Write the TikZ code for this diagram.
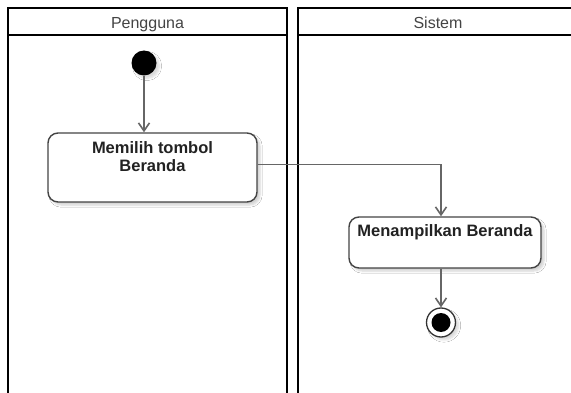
\documentclass[tikz,border=0pt]{standalone}
\usepackage{fontspec}
\setmainfont{Liberation Sans}
\usetikzlibrary{arrows.meta,shadows.blur}
\definecolor{lanetext}{HTML}{444444}
\definecolor{acttext}{HTML}{222222}
\definecolor{edge}{HTML}{666666}
\definecolor{actborder}{HTML}{444444}
\tikzset{
  lane/.style={draw=black, line width=2.6pt},
  lanetitle/.style={font=\fontsize{16}{18}\selectfont, text=lanetext, inner sep=0pt, anchor=base},
  actbox/.style={draw=actborder, line width=1.4pt, fill=white, rounded corners=10pt,
    blur shadow={shadow xshift=3pt, shadow yshift=-3pt, shadow opacity=18, shadow blur steps=6}},
  acttitle/.style={font=\bfseries\fontsize{16.5}{18}\selectfont, text=acttext, inner sep=0pt, align=center},
  flow/.style={draw=edge, line width=1.6pt, -{Straight Barb[length=8pt,width=11pt]}},
  startnode/.style={circle, fill=black, minimum size=25pt, inner sep=0pt,
    blur shadow={shadow xshift=3pt, shadow yshift=-3pt, shadow opacity=15, shadow blur steps=6}},
  endring/.style={circle, draw=black!80, line width=1.3pt, fill=white, minimum size=29pt, inner sep=0pt,
    blur shadow={shadow xshift=3pt, shadow yshift=-3pt, shadow opacity=15, shadow blur steps=6}},
  enddot/.style={circle, fill=black, minimum size=19pt, inner sep=0pt}
}
\begin{document}
\begin{tikzpicture}[x=1pt,y=-1pt]
  \useasboundingbox (0,0) rectangle (571,393);
  \clip (0,0) rectangle (571,393);
  \fill[white] (0,0) rectangle (571,393);

  % swimlanes
  \draw[lane] (8,400) -- (8,8) -- (287,8) -- (287,400);
  \draw[lane] (8,35) -- (287,35);
  \draw[lane] (298,400) -- (298,8) -- (580,8);
  \draw[lane] (298,35) -- (580,35);
  \node[lanetitle] (laneA) at (147.5,29) {Pengguna};
  \node[lanetitle] (laneB) at (438,29) {Sistem};

  % activities
  \node[startnode] (start) at (144,63) {};
  \node[actbox, minimum width=209pt, minimum height=69pt, inner sep=0pt] (act1) at (152.5,167.5) {};
  \node[acttitle, anchor=north] (act1txt) at (152.5,141) {Memilih tombol\\Beranda};
  \node[actbox, minimum width=192pt, minimum height=51pt, inner sep=0pt] (act2) at (445,242.5) {};
  \node[acttitle, anchor=north] (act2txt) at (445,224) {Menampilkan Beranda};
  \node[endring] (fin) at (441,322.5) {};
  \node[enddot] (findot) at (fin) {};

  % control flow
  \draw[flow] (start) -- (act1.north -| start);
  \draw[flow] ([yshift=3pt]act1.east) -| (act2.north -| fin);
  \draw[flow] (act2.south -| fin) -- (fin.north);
\end{tikzpicture}
\end{document}
